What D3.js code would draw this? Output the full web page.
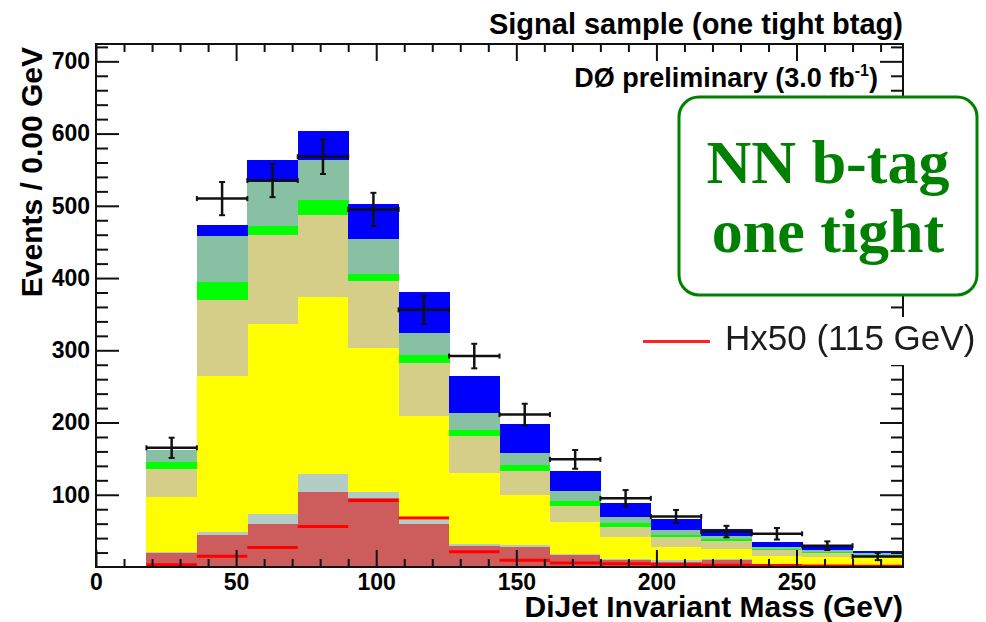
<!DOCTYPE html>
<html>
<head>
<meta charset="utf-8">
<script src="https://cdn.jsdelivr.net/npm/d3@7"></script>
<style>
  body { margin: 0; background: #fff; }
  svg text { font-family: "Liberation Sans", Arial, Helvetica, sans-serif; }
</style>
</head>
<body>
<svg id="chart" width="986" height="622"></svg>
<script>
// histogram bin edges (GeV)
var binEdges = [18, 36, 54, 72, 90, 108, 126, 144, 162, 180, 198, 216, 234, 252, 270, 288];

// background contributions per bin, bottom of the stack first
var bkgRed    = [20, 44, 60, 104, 96, 60, 29, 28, 16, 9, 7, 10, 3, 2, 1];
var bkgGrey   = [1, 4, 14, 25, 8, 5, 3, 2, 2.5, 2.5, 2, 1, 0.5, 0.5, 0.5];
var bkgYellow = [76, 217, 262, 245, 199, 144, 98, 69, 43.5, 30, 19, 14, 11.5, 11.5, 11];
var bkgKhaki  = [38, 104, 123, 113, 93, 73, 51, 34, 23, 13.5, 13, 11, 8, 5.5, 3];
var bkgGreen  = [11, 25, 13, 21, 10, 12, 9, 8, 6, 6, 3, 3, 2, 1.5, 1.5];
var bkgSea    = [16, 64, 61, 56, 48, 30, 23, 17, 14, 8, 7, 3.5, 2, 2, 2];
var bkgBlue   = [0, 15, 31, 39, 48, 57, 51, 40, 28, 20, 16, 9.5, 7.5, 4.7, 3];

// Higgs signal x50
var signal = [3, 15, 27, 56, 92, 68, 21, 9.3, 5.5, 4.6, 3.5, 2.5, 2, 1.5, 1];

// observed events and their errors
var observed = [165, 510, 535, 568, 495, 356, 292, 211, 149, 95, 70, 49, 46, 29.5, 14.5];
var obsError = [14, 23, 23, 24, 23, 19.5, 17, 15, 13, 11.5, 9, 8, 8, 6, 5];

var xMajor = [0, 50, 100, 150, 200, 250];
var yMajor = [100, 200, 300, 400, 500, 600, 700];

var LAYERS = [
  {key: "red",    values: bkgRed,    color: "#cd5c5c"},
  {key: "grey",   values: bkgGrey,   color: "#b3cdc6"},
  {key: "yellow", values: bkgYellow, color: "#ffff00"},
  {key: "khaki",  values: bkgKhaki,  color: "#d4ce88"},
  {key: "green",  values: bkgGreen,  color: "#00ff00"},
  {key: "sea",    values: bkgSea,    color: "#88c0a4"},
  {key: "blue",   values: bkgBlue,   color: "#0000ff"}
];

var FRAME = {left: 96, top: 44, right: 903, bottom: 567};

var svg = d3.select("#chart");

var x = d3.scaleLinear().domain([0, 288]).range([FRAME.left, FRAME.right]);
var y = d3.scaleLinear().domain([0, 724]).range([FRAME.bottom, FRAME.top]);

var bins = binEdges.slice(0, -1).map(function(lo, i) {
  var d = {lo: lo, hi: binEdges[i + 1], obs: observed[i], err: obsError[i], sig: signal[i]};
  LAYERS.forEach(function(l) { d[l.key] = l.values[i]; });
  return d;
});

function drawStack(target) {
  var colors = {};
  LAYERS.forEach(function(l) { colors[l.key] = l.color; });

  var stacked = d3.stack()
    .keys(LAYERS.map(function(l) { return l.key; }))(bins);

  target.selectAll("g.layer")
    .data(stacked)
    .enter()
    .append("g")
    .attr("class", "layer")
    .attr("fill", function(s) { return colors[s.key]; })
    .attr("shape-rendering", "crispEdges")
    .selectAll("rect")
    .data(function(s) { return s; })
    .enter()
    .append("rect")
    .attr("x", function(d) { return x(d.data.lo); })
    .attr("width", function(d) { return x(d.data.hi) - x(d.data.lo) + 0.5; })
    .attr("y", function(d) { return y(d[1]); })
    .attr("height", function(d) { return y(d[0]) - y(d[1]); });
}

function drawSignal(target) {
  target.selectAll("line.signal")
    .data(bins)
    .enter()
    .append("line")
    .attr("class", "signal")
    .attr("x1", function(d) { return x(d.lo); })
    .attr("x2", function(d) { return x(d.hi); })
    .attr("y1", function(d) { return y(d.sig); })
    .attr("y2", function(d) { return y(d.sig); })
    .attr("stroke", "#ff0000")
    .attr("stroke-width", 3);
}

function drawPoints(target) {
  var pts = target.selectAll("g.point")
    .data(bins)
    .enter()
    .append("g")
    .attr("class", "point")
    .attr("stroke", "#111")
    .attr("stroke-width", 2.5);

  // horizontal bar across the bin
  pts.append("line")
    .attr("x1", function(d) { return x(d.lo); })
    .attr("x2", function(d) { return x(d.hi); })
    .attr("y1", function(d) { return y(d.obs); })
    .attr("y2", function(d) { return y(d.obs); });

  pts.append("line")
    .attr("x1", function(d) { return (x(d.lo) + x(d.hi)) / 2; })
    .attr("x2", function(d) { return (x(d.lo) + x(d.hi)) / 2; })
    .attr("y1", function(d) { return y(d.obs - d.err); })
    .attr("y2", function(d) { return y(d.obs + d.err); });

  // small end caps
  [-1, 1].forEach(function(s) {
    pts.append("line")
      .attr("x1", function(d) { return (x(d.lo) + x(d.hi)) / 2 - 3; })
      .attr("x2", function(d) { return (x(d.lo) + x(d.hi)) / 2 + 3; })
      .attr("y1", function(d) { return y(d.obs + s * d.err); })
      .attr("y2", function(d) { return y(d.obs + s * d.err); })
      .attr("stroke-width", 2);
    pts.append("line")
      .attr("x1", function(d) { return s < 0 ? x(d.lo) : x(d.hi); })
      .attr("x2", function(d) { return s < 0 ? x(d.lo) : x(d.hi); })
      .attr("y1", function(d) { return y(d.obs) - 2.5; })
      .attr("y2", function(d) { return y(d.obs) + 2.5; })
      .attr("stroke-width", 2);
  });
}

function renderAxis(gen, translate, labelled) {
  var g = svg.append("g")
    .attr("transform", "translate(" + translate + ")")
    .call(gen);
  g.select(".domain").remove();
  g.selectAll("line").attr("stroke", "#111").attr("stroke-width", 2);
  if (labelled) {
    g.selectAll("text")
      .attr("fill", "#000")
      .style("font-size", "23px")
      .style("font-weight", "bold");
  } else {
    g.selectAll("text").remove();
  }
  return g;
}

function drawAxes() {
  var xMinor = d3.range(0, 289, 10).filter(function(v) { return v % 50 != 0; });
  var yMinor = d3.range(0, 725, 20).filter(function(v) { return v % 100 != 0; });

  renderAxis(d3.axisBottom(x).tickValues(xMajor).tickSize(-17).tickSizeOuter(0).tickPadding(7),
             "0," + FRAME.bottom, true);
  renderAxis(d3.axisBottom(x).tickValues(xMinor).tickSize(-8).tickSizeOuter(0),
             "0," + FRAME.bottom, false);
  renderAxis(d3.axisTop(x).tickValues(xMajor).tickSize(-17).tickSizeOuter(0),
             "0," + FRAME.top, false);
  renderAxis(d3.axisTop(x).tickValues(xMinor).tickSize(-8).tickSizeOuter(0),
             "0," + FRAME.top, false);

  renderAxis(d3.axisLeft(y).tickValues(yMajor).tickSize(-23).tickSizeOuter(0).tickPadding(6),
             FRAME.left + ",0", true);
  renderAxis(d3.axisLeft(y).tickValues(yMinor).tickSize(-12).tickSizeOuter(0),
             FRAME.left + ",0", false);
  renderAxis(d3.axisRight(y).tickValues(yMajor).tickSize(-23).tickSizeOuter(0),
             FRAME.right + ",0", false);
  renderAxis(d3.axisRight(y).tickValues(yMinor).tickSize(-12).tickSizeOuter(0),
             FRAME.right + ",0", false);

  svg.append("rect")
    .attr("x", FRAME.left)
    .attr("y", FRAME.top)
    .attr("width", FRAME.right - FRAME.left)
    .attr("height", FRAME.bottom - FRAME.top)
    .attr("fill", "none")
    .attr("stroke", "#111")
    .attr("stroke-width", 2);
}

function drawLabels() {
  svg.append("text")
    .attr("x", FRAME.right)
    .attr("y", 34)
    .attr("text-anchor", "end")
    .style("font-size", "29px")
    .style("font-weight", "bold")
    .text("Signal sample (one tight btag)");

  var lumi = svg.append("text")
    .attr("x", 878)
    .attr("y", 87)
    .attr("text-anchor", "end")
    .style("font-size", "27px")
    .style("font-weight", "bold");
  lumi.append("tspan").text("DØ preliminary (3.0 fb");
  lumi.append("tspan").attr("dy", -11).style("font-size", "16px").text("-1");
  lumi.append("tspan").attr("dy", 11).text(")");

  svg.append("text")
    .attr("transform", "translate(42," + 47 + ") rotate(-90)")
    .attr("text-anchor", "end")
    .style("font-size", "30px")
    .style("font-weight", "bold")
    .text("Events / 0.00 GeV");

  svg.append("text")
    .attr("x", FRAME.right)
    .attr("y", 617)
    .attr("text-anchor", "end")
    .style("font-size", "30px")
    .style("font-weight", "bold")
    .text("DiJet Invariant Mass (GeV)");
}

function drawLegend() {
  svg.append("defs")
    .append("filter")
    .attr("id", "soft")
    .append("feGaussianBlur")
    .attr("stdDeviation", 0.7);

  var lg = svg.append("g");
  lg.append("rect")
    .attr("x", 632).attr("y", 317)
    .attr("width", 354).attr("height", 48)
    .attr("fill", "#fff");
  var inner = lg.append("g").attr("filter", "url(#soft)");
  inner.append("line")
    .attr("x1", 643).attr("x2", 710)
    .attr("y1", 341.5).attr("y2", 341.5)
    .attr("stroke", "#ff2020")
    .attr("stroke-width", 3);
  inner.append("text")
    .attr("x", 725).attr("y", 350)
    .attr("fill", "#1e1e1e")
    .style("font-size", "35px")
    .text("Hx50 (115 GeV)");
}

function drawTagBox() {
  var box = svg.append("g");
  box.append("rect")
    .attr("x", 679).attr("y", 97)
    .attr("width", 298).attr("height", 198)
    .attr("rx", 20).attr("ry", 20)
    .attr("fill", "#fff")
    .attr("stroke", "#008000")
    .attr("stroke-width", 3);
  box.selectAll("text")
    .data(["NN b-tag", "one tight"])
    .enter()
    .append("text")
    .attr("x", 828)
    .attr("y", function(d, i) { return 183 + i * 69; })
    .attr("text-anchor", "middle")
    .attr("fill", "#008000")
    .style("font-family", "'Liberation Serif', 'Times New Roman', serif")
    .style("font-size", "62px")
    .style("font-weight", "bold")
    .text(function(d) { return d; });
}

var plot = svg.append("g");
drawStack(plot);
drawSignal(plot);
drawPoints(plot);
drawAxes();
drawLabels();
drawLegend();
drawTagBox();
</script>
</body>
</html>
